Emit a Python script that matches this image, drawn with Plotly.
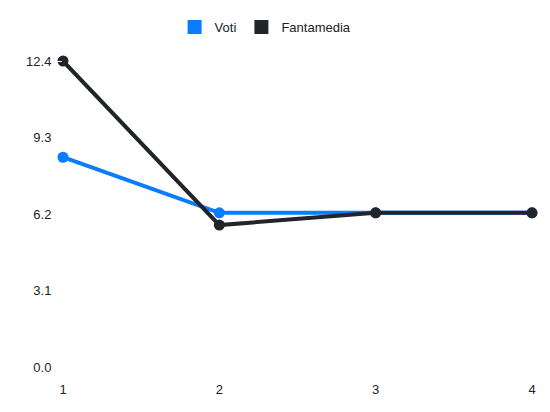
import plotly.graph_objects as go

giornate = [1, 2, 3, 4]
voti = [8.5, 6.25, 6.25, 6.25]
fantamedia = [12.4, 5.75, 6.25, 6.25]
y_ticks = [0.0, 3.1, 6.2, 9.3, 12.4]
y_labels = ["0.0", "3.1", "6.2", "9.3", "12.4"]

BLUE = "#0a7cff"
DARK = "#212428"

fig = go.Figure()
for name, vals, col in [("Voti", voti, BLUE), ("Fantamedia", fantamedia, DARK)]:
    fig.add_trace(go.Scatter(
        x=giornate, y=vals, mode="lines+markers", name=name,
        line=dict(color=col, width=4), marker=dict(color=col, size=11),
        showlegend=False, cliponaxis=False))
for name, col in [("Voti", BLUE), ("Fantamedia", DARK)]:
    fig.add_trace(go.Scatter(
        x=[None], y=[None], mode="markers", name=name,
        marker=dict(color=col, size=14, symbol="square"), showlegend=True))

fig.update_layout(
    width=542, height=404,
    margin=dict(l=55, r=18, t=53, b=45),
    paper_bgcolor="white", plot_bgcolor="white",
    font=dict(family="Liberation Sans, Arial, sans-serif", size=13, color="#222"),
    legend=dict(orientation="h", x=0.432, xanchor="center", y=0.953, yanchor="middle",
                yref="container", font=dict(size=13), itemwidth=30,
                traceorder="normal"),
    xaxis=dict(range=[1, 4], tickvals=giornate, showgrid=False, zeroline=False,
               showline=False, ticks="outside", ticklen=10, tickcolor="white"),
    yaxis=dict(range=[0, 12.4], tickvals=y_ticks, ticktext=y_labels, showgrid=False,
               zeroline=False, showline=False, ticks="outside", ticklen=8,
               tickcolor="white"),
)
fig.write_html("out.html")
